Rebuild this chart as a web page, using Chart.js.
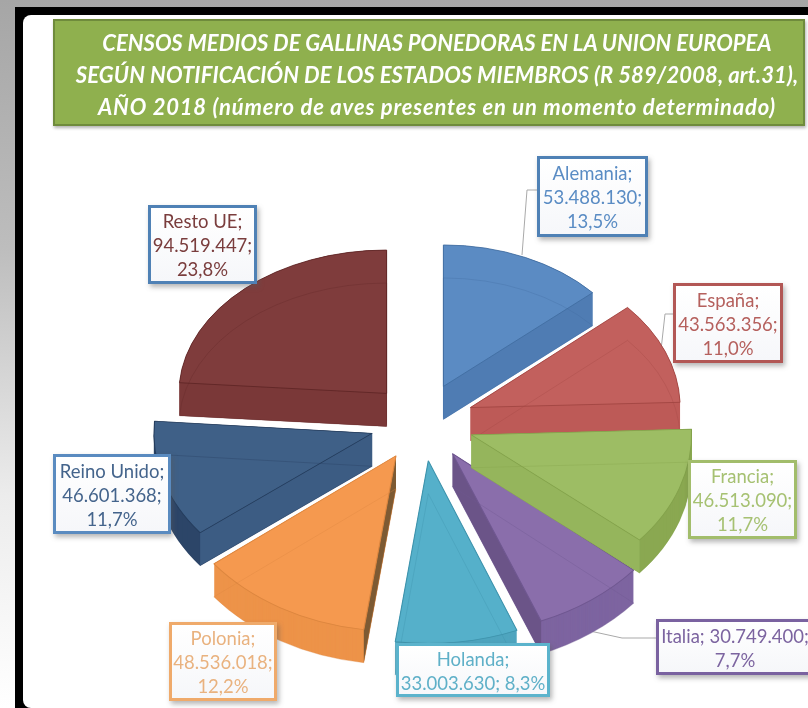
<!DOCTYPE html>
<html>
<head>
<meta charset="utf-8">
<script src="https://cdn.jsdelivr.net/npm/chart.js@4"></script>
<style>
  html, body { margin: 0; padding: 0; }
  body { width: 808px; height: 708px; overflow: hidden; position: relative; font-family: Lato, sans-serif;
    background: linear-gradient(180deg, #a6a6a6 0, #bdbdbd 35%, #ececec 70%, #ffffff 100%); }
  #frame { position: absolute; left: 15px; top: 7px; width: 793px; height: 701px; background: #000; }
  #panel { position: absolute; left: 23px; top: 15px; width: 785px; height: 693px; background: #fff; border-radius: 8px 0 0 8px; }
  #chart { position: absolute; left: 0; top: 0; }
  #banner { position: absolute; left: 53px; top: 19px; width: 752px; height: 107px; box-sizing: border-box;
    background: #8fb04e; border: 2px solid #6f8b3c; box-shadow: 1px 2px 3px rgba(0,0,0,.3);
    color: #fff; font-weight: bold; font-style: italic; font-size: 22px; line-height: 32px; text-align: center; padding: 6px 0 0 16px; }
  #banner .l2 { letter-spacing: .12px; }
  #banner .l3 { letter-spacing: .8px; }
  .box { position: absolute; box-sizing: border-box; border: 3px solid; background: linear-gradient(180deg, #fff, #f6f7fa);
    box-shadow: 2px 3px 5px rgba(90,90,90,.45); text-align: center; font-size: 18.5px; line-height: 24px; white-space: nowrap;
    display: flex; align-items: center; justify-content: center; padding-top: 1px; }
</style>
</head>
<body>
<div id="frame"></div>
<div id="panel"></div>
<canvas id="chart" width="808" height="708"></canvas>
<div id="banner">CENSOS MEDIOS DE GALLINAS PONEDORAS EN LA UNION EUROPEA<br><span class="l2">SEGÚN NOTIFICACIÓN DE LOS ESTADOS MIEMBROS (R 589/2008, art.31),</span><br><span class="l3">AÑO 2018 (número de aves presentes en un momento determinado)</span></div>
<script>
const categories = ['Alemania', 'España', 'Francia', 'Italia', 'Holanda', 'Polonia', 'Reino Unido', 'Resto UE'];
const censos = [53488130, 43563356, 46513090, 30749400, 33003630, 48536018, 46601368, 94519447];

// top face, outer wall, and the two straight walls of each slice
const topColors = ['#5b8bc3', '#c2605d', '#9dbd64', '#8a6eab', '#55b0ca', '#f5994f', '#3f6087', '#7f3c3c'];
const wallColors = ['#5482b9', '#b95654', '#8aa851', '#7d64a0', '#4fa5bf', '#ed9349', '#2c4568', '#763636'];
const endWalls = ['#4f7cb3', '#bd5a57', '#95b55c', '#6b5488', null, null, null, null];
const startWalls = [null, null, null, null, null, '#7d5a33', '#3c5c83', '#7a3838'];
const lineColors = ['#3f6a9e', '#a04441', '#83a24b', '#6f5790', '#3f94ad', '#dc863f', '#243c5c', '#5e2525'];
const textColors = ['#5a8cc4', '#b5605d', '#a6c172', '#7c64a0', '#5fb0c8', '#e9b27f', '#44648c', '#7a3d3d'];
const borderColors = ['#4f81b5', '#b25755', '#a2bd6b', '#7a62a0', '#5bb3cc', '#efaa6b', '#5a8bc0', '#4f81b5'];

const paintOrder = [7, 0, 1, 6, 3, 4, 5, 2];

// near slices come out bigger than far ones
const sliceScale = [0.94, 0.99, 1.04, 1.12, 1.12, 1.09, 1.03, 0.98];
const sliceTilt = [0.71, 0.72, 0.74, 0.76, 0.77, 0.76, 0.74, 0.69];

// left, top, width, height of the label boxes, and where the lines break
const boxes = [[537, 156, 111, 81], [673, 283, 110, 80], [688, 460, 109, 79], [656, 619, 158, 56],
               [396, 643, 154, 54], [169, 622, 108, 79], [53, 454, 118, 80], [148, 205, 109, 79]];
const breaks = [[1, 2], [1, 2], [1, 2], [2], [1], [1, 2], [1, 2], [1, 2]];
const leaders = [[[537, 190], [527, 190], [522, 255]], [[673, 314], [665, 314], [661, 350]],
                 [[688, 490], [680, 490], [677, 522]], [[656, 638], [622, 638], [590, 631]]];

const tilt = 0.75, depth = 33, explode = 52;

const total = censos.reduce((a, b) => a + b, 0);
function percent(v) { return (v / total * 100).toFixed(1).replace('.', ',') + '%'; }
function miles(v) { return String(v).replace(/\B(?=(\d{3})+$)/g, '.'); }

categories.forEach((name, i) => {
  const parts = [name + ';', miles(censos[i]) + ';', percent(censos[i])];
  let html = '';
  parts.forEach((p, n) => {
    html += p;
    if (n < 2) html += breaks[i].includes(n + 1) ? '<br>' : ' ';
  });
  const el = document.createElement('div');
  el.className = 'box';
  el.innerHTML = '<span>' + html + '</span>';
  el.style.cssText = 'left:' + boxes[i][0] + 'px;top:' + boxes[i][1] + 'px;width:' + boxes[i][2] + 'px;height:' + boxes[i][3] + 'px;color:' + textColors[i] + ';border-color:' + borderColors[i];
  document.body.appendChild(el);
});

function paint(arc, ctx, fill, stroke, width) {
  const saved = arc.options;
  arc.options = Object.assign({}, saved, { backgroundColor: fill, borderColor: stroke, borderWidth: width });
  arc.draw(ctx);
  arc.options = saved;
}

// the flat pie gets tilted and pushed apart here, one slice at a time
const tiltedPie = {
  id: 'tiltedPie',
  beforeDatasetsDraw(chart) {
    const ctx = chart.ctx;
    const arcs = chart.getDatasetMeta(0).data;

    ctx.save();
    ctx.strokeStyle = '#a9a9a9';
    ctx.lineWidth = 1;
    leaders.forEach(l => {
      ctx.beginPath();
      l.forEach((p, n) => n ? ctx.lineTo(p[0], p[1]) : ctx.moveTo(p[0], p[1]));
      ctx.stroke();
    });
    ctx.restore();

    paintOrder.forEach(i => {
      const arc = arcs[i];
      const mid = (arc.startAngle + arc.endAngle) / 2;
      const s = sliceScale[i], k = sliceTilt[i];
      const ox = arc.x + Math.cos(mid) * explode;
      const oy = arc.y + Math.sin(mid) * explode * tilt;
      const place = dy => {
        ctx.translate(ox, oy + dy);
        ctx.scale(s, s * k);
        ctx.translate(-arc.x, -arc.y);
      };

      for (let dy = depth; dy >= 0; dy--) {
        ctx.save();
        place(dy);
        paint(arc, ctx, wallColors[i], wallColors[i], 0);
        ctx.restore();
      }

      [[startWalls[i], arc.startAngle], [endWalls[i], arc.endAngle]].forEach(([color, a]) => {
        if (!color) return;
        const rx = Math.cos(a) * arc.outerRadius * s;
        const ry = Math.sin(a) * arc.outerRadius * s * k;
        ctx.fillStyle = color;
        ctx.beginPath();
        ctx.moveTo(ox, oy);
        ctx.lineTo(ox + rx, oy + ry);
        ctx.lineTo(ox + rx, oy + ry + depth);
        ctx.lineTo(ox, oy + depth);
        ctx.closePath();
        ctx.fill();
      });

      ctx.save();
      place(0);
      paint(arc, ctx, topColors[i], lineColors[i], 1);
      ctx.restore();

      ctx.save();
      ctx.globalAlpha = 0.45;
      place(depth);
      paint(arc, ctx, 'transparent', lineColors[i], 0.8);
      ctx.restore();
    });
    return false;
  }
};

new Chart(document.getElementById('chart'), {
  type: 'pie',
  data: {
    labels: categories,
    datasets: [{ data: censos, backgroundColor: topColors, borderWidth: 0 }]
  },
  options: {
    responsive: false,
    animation: false,
    radius: 212,
    layout: { padding: { left: 36, top: 136 } },
    plugins: { legend: { display: false }, tooltip: { enabled: false } }
  },
  plugins: [tiltedPie]
});
</script>
</body>
</html>
